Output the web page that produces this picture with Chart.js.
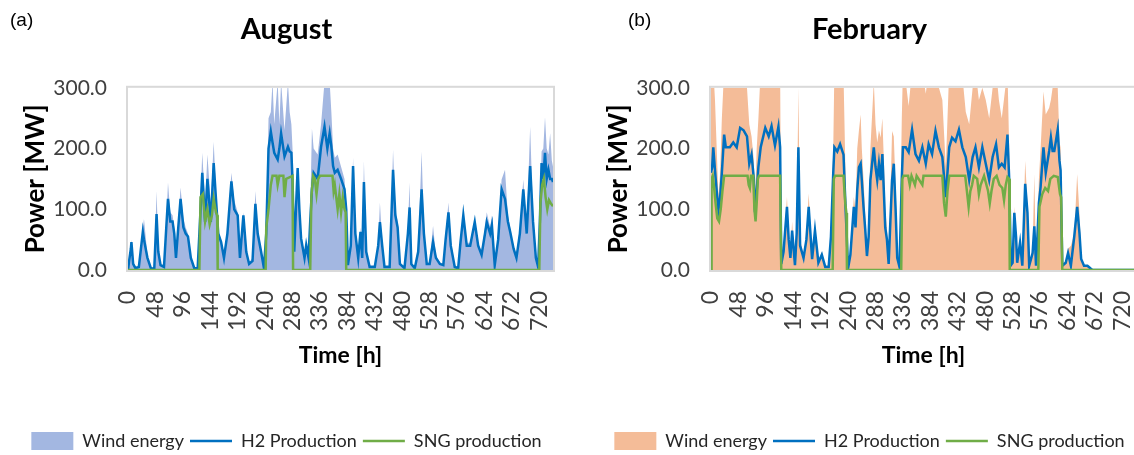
<!DOCTYPE html>
<html>
<head>
<meta charset="utf-8">
<title>Wind energy, H2 and SNG production</title>
<script src="https://cdn.jsdelivr.net/npm/chart.js@4.4.0/dist/chart.umd.min.js"></script>
<style>
  html, body { margin: 0; padding: 0; background: #fff; overflow: hidden; width: 1134px; height: 455px; }
  .panel { position: absolute; top: 0; }
  #augPanel { left: 0; }
  #febPanel { left: 583px; }
</style>
</head>
<body>
<div class="panel" id="augPanel"><canvas id="augChart" width="567" height="475"></canvas></div>
<div class="panel" id="febPanel"><canvas id="febChart" width="567" height="475"></canvas></div>
<script>
// axis ticks
const hourTicks = [0, 48, 96, 144, 192, 240, 288, 336, 384, 432, 480, 528, 576, 624, 672, 720];
const powerTicks = [0, 100, 200, 300];

// August (hours, MW)
const augHours = [
  0, 2, 5, 6, 9, 13, 19, 22, 26, 28,
  34, 40, 46, 50, 53, 57, 63, 67, 70, 74,
  78, 81, 84, 88, 92, 97, 101, 105, 110, 116,
  122, 126, 130, 135, 139, 145, 150, 154, 158, 163,
  168, 174, 181, 186, 192, 196, 202, 207, 212, 218,
  223, 227, 233, 238, 242, 246, 250, 253, 256, 262,
  265, 268, 274, 280, 283, 286, 288, 291, 294, 297,
  300, 303, 309, 312, 316, 319, 322, 325, 332, 338,
  344, 349, 353, 356, 359, 362, 367, 373, 379, 382,
  385, 390, 394, 398, 403, 407, 410, 413, 417, 423,
  432, 438, 441, 445, 449, 458, 464, 468, 472, 476,
  484, 490, 493, 496, 502, 508, 514, 518, 523, 528,
  534, 539, 546, 552, 556, 561, 565, 572, 578, 582,
  587, 593, 599, 607, 613, 619, 625, 628, 634, 637,
  642, 648, 654, 660, 665, 669, 675, 680, 686, 692,
  698, 704, 709, 714, 718, 721, 724, 727, 730, 733,
  736, 739, 742, 744
];
const augH2 = [
  0, 15, 35, 46, 10, 3, 5, 30, 63, 50,
  20, 3, 2, 92, 30, 8, 5, 70, 117, 80,
  80, 60, 20, 70, 117, 70, 60, 55, 20, 3,
  3, 80, 160, 79, 150, 79, 176, 117, 60, 46,
  20, 60, 146, 100, 90, 20, 90, 30, 10, 15,
  109, 60, 30, 3, 60, 200, 228, 210, 193, 182,
  200, 225, 187, 203, 195, 193, 149, 30, 100, 168,
  100, 52, 20, 41, 20, 80, 133, 160, 150, 203,
  236, 200, 225, 203, 171, 160, 165, 150, 133, 100,
  8, 40, 171, 60, 20, 63, 20, 145, 30, 5,
  5, 40, 79, 40, 5, 5, 165, 90, 70, 10,
  3, 60, 103, 10, 3, 30, 133, 60, 10, 10,
  46, 20, 10, 8, 50, 95, 40, 5, 3, 45,
  90, 40, 40, 79, 40, 25, 60, 79, 60, 74,
  8, 50, 133, 117, 80, 63, 35, 20, 60, 133,
  60, 171, 80, 20, 5, 80, 176, 150, 193, 150,
  165, 150, 150, 145
];
const augWind = [
  0, 20, 40, 50, 12, 5, 8, 35, 70, 84,
  25, 5, 3, 130, 40, 10, 8, 80, 144, 95,
  90, 70, 25, 80, 136, 85, 70, 60, 22, 5,
  5, 95, 193, 110, 190, 110, 211, 130, 65, 50,
  22, 70, 160, 115, 95, 25, 95, 35, 12, 20,
  130, 70, 35, 5, 70, 250, 260, 310, 240, 310,
  240, 310, 230, 310, 260, 240, 200, 40, 120, 170,
  110, 60, 25, 45, 25, 100, 233, 200, 190, 240,
  310, 300, 310, 260, 200, 185, 190, 170, 150, 110,
  10, 45, 185, 70, 25, 70, 25, 180, 35, 8,
  8, 45, 111, 45, 8, 8, 198, 100, 80, 12,
  5, 70, 144, 12, 5, 35, 195, 70, 12, 12,
  73, 25, 12, 10, 60, 111, 50, 8, 5, 50,
  95, 45, 45, 85, 45, 30, 70, 95, 70, 90,
  10, 60, 149, 165, 90, 70, 40, 25, 70, 149,
  70, 236, 90, 25, 8, 100, 195, 200, 252, 200,
  190, 225, 180, 170
];
const augSngHours = [
  0, 125, 127, 131, 135, 139, 143, 147, 150, 154, 156, 157,
  241, 242, 246, 250, 253, 260, 262, 265, 272, 274, 277, 288, 289,
  319, 321, 324, 327, 330, 333, 336, 358, 360, 362, 367, 370, 373, 376, 379, 381, 382,
  720, 722, 725, 728, 731, 734, 737, 740, 744
];
const augSng = [
  0, 0, 120, 125, 80, 100, 75, 90, 117, 95, 90, 0,
  0, 70, 100, 140, 155, 155, 140, 155, 155, 120, 150, 155, 0,
  0, 120, 155, 150, 125, 150, 155, 155, 130, 140, 100, 125, 95, 120, 100, 95, 0,
  0, 110, 140, 150, 120, 100, 115, 110, 105
];

// February
const febHours = [
  0, 2, 4, 7, 10, 13, 16, 19, 23, 26,
  33, 39, 45, 51, 57, 63, 67, 71, 75, 77,
  80, 83, 87, 95, 101, 106, 112, 118, 121, 123,
  127, 133, 136, 139, 142, 147, 150, 153, 156, 162,
  167, 171, 177, 182, 188, 194, 200, 206, 210, 214,
  216, 221, 226, 232, 235, 240, 244, 250, 253, 256,
  259, 262, 264, 267, 270, 273, 276, 279, 285, 288,
  291, 294, 297, 300, 303, 305, 308, 311, 314, 317,
  320, 323, 326, 330, 334, 336, 341, 346, 352, 358,
  364, 370, 376, 381, 387, 393, 399, 405, 411, 417,
  422, 428, 434, 440, 446, 452, 458, 463, 469, 475,
  481, 487, 493, 499, 504, 509, 514, 519, 522, 525,
  528, 531, 534, 536, 541, 545, 550, 554, 557, 563,
  566, 569, 572, 574, 577, 582, 586, 592, 595, 598,
  601, 607, 610, 612, 615, 621, 625, 630, 636, 641,
  645, 648, 653, 659, 665, 668, 744
];
const febH2 = [
  160, 169, 202, 164, 130, 99, 120, 160, 223, 202,
  202, 210, 202, 234, 230, 220, 175, 190, 150, 95,
  130, 170, 202, 234, 220, 237, 205, 236, 202, 10,
  30, 104, 50, 20, 65, 8, 60, 202, 40, 20,
  50, 104, 18, 65, 12, 25, 5, 5, 55, 160,
  202, 195, 207, 190, 115, 3, 25, 104, 70, 132,
  169, 175, 148, 104, 67, 23, 55, 148, 202, 170,
  148, 175, 148, 191, 120, 70, 50, 10, 80, 148,
  175, 104, 20, 5, 150, 202, 202, 194, 231, 191,
  180, 202, 175, 207, 191, 229, 202, 186, 120, 202,
  218, 212, 231, 202, 186, 148, 186, 202, 169, 202,
  175, 148, 186, 207, 169, 175, 169, 223, 150, 8,
  12, 94, 55, 12, 45, 7, 142, 94, 7, 28,
  72, 7, 67, 110, 137, 202, 160, 196, 218, 196,
  196, 231, 180, 164, 7, 12, 28, 7, 56, 104,
  61, 18, 7, 7, 2, 0, 0
];
const febWind = [
  330, 330, 330, 280, 200, 120, 160, 250, 330, 330,
  330, 330, 330, 330, 330, 300, 240, 220, 180, 110,
  200, 250, 330, 330, 330, 330, 330, 330, 330, 15,
  40, 120, 60, 25, 80, 10, 70, 300, 50, 25,
  60, 126, 20, 75, 15, 30, 8, 8, 60, 200,
  330, 330, 330, 320, 180, 5, 30, 120, 100, 200,
  230, 256, 200, 150, 90, 30, 80, 200, 310, 240,
  210, 230, 218, 250, 170, 100, 70, 12, 120, 229,
  220, 140, 25, 8, 250, 330, 310, 270, 330, 300,
  330, 330, 290, 330, 330, 330, 300, 280, 170, 330,
  330, 330, 330, 320, 260, 240, 300, 330, 280, 300,
  280, 250, 300, 330, 280, 250, 290, 330, 200, 10,
  15, 104, 60, 15, 50, 10, 180, 110, 10, 35,
  158, 10, 80, 150, 200, 294, 256, 267, 280, 300,
  300, 300, 212, 201, 10, 15, 35, 40, 60, 158,
  94, 20, 8, 8, 3, 0, 0
];
const febSngHours = [
  0, 1, 3, 5, 8, 11, 14, 17, 20, 23,
  64, 66, 68, 70, 74, 76, 78, 80, 82, 84, 121, 123,
  213, 215, 217, 232, 235, 237, 238,
  333, 335, 337, 345, 348, 351, 357, 360, 370, 372,
  405, 408, 411, 414, 417, 445, 448, 451, 454, 457, 460, 466, 469, 472, 478,
  485, 488, 491, 495, 500, 505, 510, 513, 516, 519, 522, 523,
  573, 575, 580, 585, 590, 594, 600, 607, 611, 613, 615, 744
];
const febSng = [
  0, 150, 155, 140, 110, 85, 80, 100, 130, 155,
  155, 140, 135, 155, 155, 100, 80, 110, 150, 155, 155, 0,
  0, 150, 155, 155, 110, 94, 0,
  0, 150, 155, 155, 140, 155, 140, 155, 140, 155,
  155, 110, 88, 130, 155, 155, 130, 104, 130, 140, 155, 150, 125, 140, 155,
  130, 110, 130, 150, 155, 140, 135, 115, 140, 153, 150, 0,
  0, 104, 125, 135, 130, 150, 155, 153, 125, 120, 0, 0
];

const toPoints = (xs, ys) => xs.map((x, i) => ({ x: x, y: ys[i] }));

// grey box round the plot + the (a)/(b) tag
const framePlugin = {
  id: 'frame',
  beforeDatasetsDraw(chart) {
    const { ctx, chartArea: a } = chart;
    ctx.save();
    ctx.strokeStyle = '#d9d9d9';
    ctx.lineWidth = 2;
    ctx.strokeRect(a.left - 1, a.top - 1, a.right - a.left + 2, a.bottom - a.top + 2);
    ctx.restore();
  },
  afterDraw(chart, args, opts) {
    const ctx = chart.ctx;
    ctx.save();
    ctx.font = '19px "Liberation Sans", Arial, sans-serif';
    ctx.fillStyle = '#000';
    ctx.textBaseline = 'middle';
    ctx.fillText(opts.label, opts.x, opts.y);
    ctx.restore();
  }
};

function makeChart(id, month, tag, tagX, windColor, hours, h2, wind, sngHours, sng) {
  return new Chart(document.getElementById(id), {
    type: 'line',
    data: {
      datasets: [
        {
          label: 'Wind energy',
          data: toPoints(hours, wind),
          backgroundColor: windColor,
          borderColor: 'rgba(0,0,0,0)',
          borderWidth: 0,
          fill: 'origin',
          pointRadius: 0,
          pointStyle: 'rect',
          order: 3,
        },
        {
          label: 'H2 Production',
          data: toPoints(hours, h2),
          borderColor: '#0070c0',
          backgroundColor: '#0070c0',
          borderWidth: 2.5,
          fill: false,
          pointRadius: 0,
          pointStyle: 'line',
          order: 2,
        },
        {
          label: 'SNG production',
          data: toPoints(sngHours, sng),
          borderColor: '#70ad47',
          backgroundColor: '#70ad47',
          borderWidth: 2.5,
          fill: false,
          pointRadius: 0,
          pointStyle: 'line',
          order: 1,
        },
      ],
    },
    options: {
      responsive: false,
      animation: false,
      devicePixelRatio: 1,
      layout: { padding: { left: 20, right: 14, top: 0, bottom: 15 } },
      plugins: {
        frame: { label: tag, x: tagX, y: 21 },
        title: {
          display: true,
          text: month,
          color: '#000',
          font: { family: 'Lato', size: 29, weight: 'bold' },
          padding: { top: 12, bottom: 41 },
        },
        legend: {
          position: 'bottom',
          labels: {
            usePointStyle: true,
            pointStyleWidth: 42,
            boxHeight: 18,
            padding: 6,
            color: '#262626',
            font: { family: 'Lato', size: 18 },
            sort: (a, b) => a.datasetIndex - b.datasetIndex,
          },
        },
        tooltip: { enabled: false },
      },
      scales: {
        x: {
          type: 'linear',
          min: 0,
          max: 744,
          grid: { display: false, drawTicks: false },
          border: { display: false },
          afterBuildTicks: s => { s.ticks = hourTicks.map(v => ({ value: v })); },
          afterFit: s => {
            s.height = 156;
            s.paddingLeft = 0;
            s.paddingRight = 0;
          },
          ticks: {
            autoSkip: false,
            maxRotation: 90,
            minRotation: 90,
            padding: 21,
            color: '#404040',
            font: { family: 'Lato', size: 23 },
          },
          title: {
            display: true,
            text: 'Time [h]',
            color: '#000',
            font: { family: 'Lato', size: 23, weight: 'bold' },
            padding: { top: 0, bottom: 57 },
          },
        },
        y: {
          min: 0,
          max: 300,
          grid: { display: false, drawTicks: false },
          border: { display: false },
          afterBuildTicks: s => { s.ticks = powerTicks.map(v => ({ value: v })); },
          afterFit: s => { s.width = 108; },
          ticks: {
            padding: 21,
            color: '#404040',
            font: { family: 'Lato', size: 21 },
            callback: v => Number(v).toFixed(1),
          },
          title: {
            display: true,
            text: 'Power [MW]',
            color: '#000',
            font: { family: 'Lato', size: 26, weight: 'bold' },
            padding: { top: 0, bottom: 0 },
          },
        },
      },
    },
    plugins: [framePlugin],
  });
}

makeChart('augChart', 'August', '(a)', 10, '#a3b7e1', augHours, augH2, augWind, augSngHours, augSng);
makeChart('febChart', 'February', '(b)', 45, '#f4bc98', febHours, febH2, febWind, febSngHours, febSng);
</script>
</body>
</html>
